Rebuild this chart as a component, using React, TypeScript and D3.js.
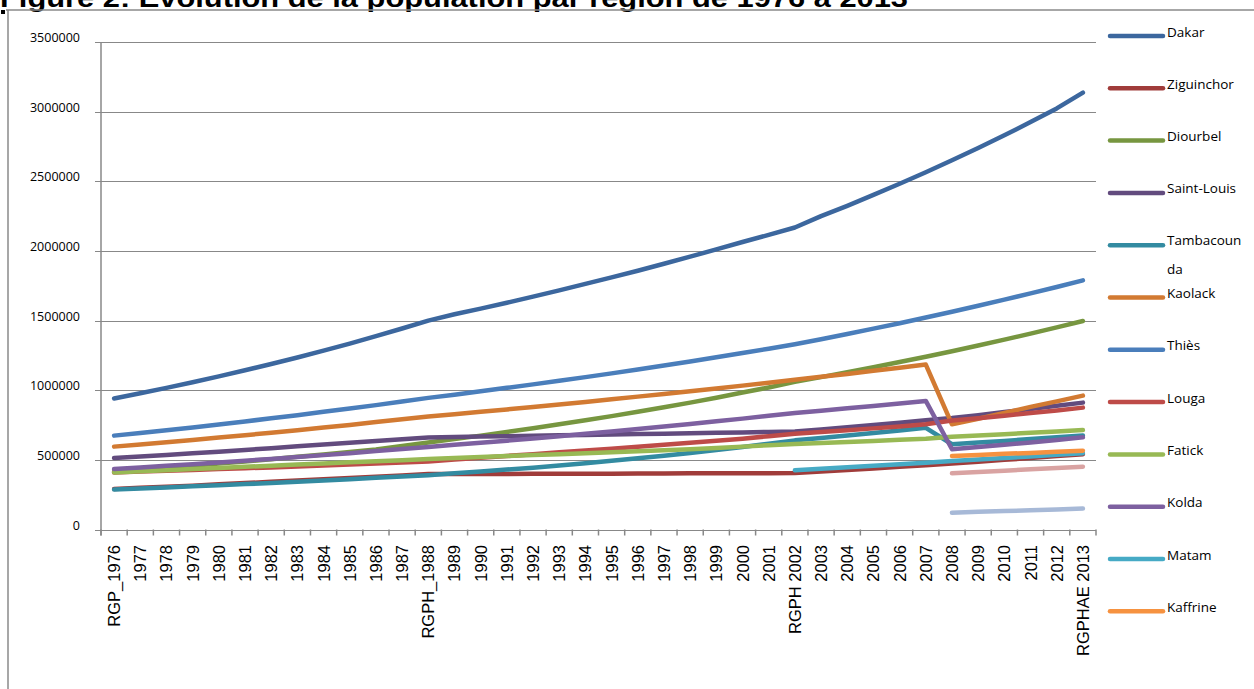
import React from "react";
import * as d3 from "d3";

const categories: string[] = [
  "RGP_1976", "1977", "1978", "1979", "1980", "1981", "1982", "1983", "1984", "1985",
  "1986", "1987", "RGPH_1988", "1989", "1990", "1991", "1992", "1993", "1994", "1995",
  "1996", "1997", "1998", "1999", "2000", "2001", "RGPH 2002", "2003", "2004", "2005",
  "2006", "2007", "2008", "2009", "2010", "2011", "2012", "RGPHAE 2013",
];

const yTicks: number[] = [0, 500000, 1000000, 1500000, 2000000, 2500000, 3000000, 3500000];

const N = null;

const dakar = [941000, 978000, 1017000, 1057000, 1099000, 1143000, 1188000, 1235000, 1284000, 1335000, 1388000, 1443000, 1500000, 1545000, 1586000, 1628000, 1672000, 1717000, 1763000, 1810000, 1858000, 1908000, 1959000, 2011000, 2064000, 2115000, 2168000, 2250000, 2324000, 2402000, 2482000, 2565000, 2651000, 2739000, 2830000, 2925000, 3023000, 3137000];
const ziguinchor = [291000, 299000, 307000, 315000, 324000, 333000, 342000, 351000, 360000, 369000, 379000, 388000, 398000, 398000, 399000, 399000, 400000, 400000, 401000, 401000, 402000, 402000, 403000, 403000, 404000, 404000, 405000, 416000, 427000, 438000, 450000, 462000, 474000, 487000, 500000, 513000, 527000, 541000];
const diourbel = [415000, 429000, 443000, 458000, 473000, 489000, 505000, 522000, 539000, 557000, 575000, 600000, 625000, 649000, 674000, 700000, 727000, 755000, 784000, 814000, 845000, 878000, 911000, 946000, 983000, 1020000, 1060000, 1094000, 1129000, 1165000, 1202000, 1240000, 1280000, 1321000, 1363000, 1406000, 1451000, 1497000];
const saintLouis = [513000, 524000, 535000, 547000, 559000, 571000, 584000, 597000, 610000, 623000, 636000, 648000, 660000, 664000, 667000, 670000, 673000, 676000, 679000, 682000, 685000, 688000, 691000, 694000, 697000, 700000, 703000, 718000, 734000, 750000, 767000, 784000, 800000, 821000, 843000, 865000, 888000, 911000];
const tambacounda = [287000, 294000, 302000, 310000, 318000, 326000, 334000, 343000, 352000, 361000, 371000, 380000, 390000, 403000, 416000, 430000, 444000, 459000, 475000, 493000, 511000, 530000, 550000, 571000, 593000, 616000, 640000, 657000, 675000, 693000, 711000, 730000, 612000, 624000, 636000, 649000, 662000, 675000];
const kaolack = [595000, 610000, 626000, 643000, 660000, 677000, 695000, 713000, 732000, 751000, 771000, 791000, 811000, 828000, 845000, 862000, 880000, 898000, 916000, 935000, 954000, 973000, 993000, 1013000, 1033000, 1054000, 1075000, 1096000, 1117000, 1139000, 1161000, 1184000, 755000, 795000, 837000, 880000, 920000, 961000];
const thies = [674000, 693000, 713000, 733000, 754000, 776000, 798000, 821000, 845000, 869000, 893000, 919000, 945000, 968000, 992000, 1017000, 1042000, 1068000, 1094000, 1121000, 1149000, 1177000, 1206000, 1236000, 1267000, 1298000, 1330000, 1366000, 1404000, 1442000, 1481000, 1522000, 1563000, 1606000, 1650000, 1695000, 1741000, 1789000];
const louga = [410000, 416000, 422000, 428000, 434000, 440000, 446000, 452000, 459000, 466000, 473000, 481000, 489000, 502000, 515000, 528000, 541000, 554000, 567000, 580000, 594000, 608000, 622000, 637000, 652000, 670000, 688000, 700000, 713000, 726000, 739000, 755000, 782000, 799000, 817000, 836000, 855000, 875000];
const fatick = [410000, 418000, 426000, 434000, 442000, 450000, 458000, 466000, 474000, 482000, 490000, 498000, 506000, 513000, 520000, 527000, 534000, 541000, 548000, 555000, 562000, 569000, 577000, 586000, 595000, 605000, 614000, 621000, 628000, 636000, 644000, 652000, 666000, 675000, 684000, 694000, 704000, 714000];
const kolda = [434000, 445000, 457000, 469000, 481000, 494000, 507000, 520000, 534000, 548000, 563000, 578000, 593000, 608000, 623000, 638000, 654000, 670000, 687000, 704000, 722000, 740000, 758000, 777000, 796000, 816000, 836000, 853000, 870000, 887000, 905000, 923000, 576000, 592000, 608000, 625000, 643000, 662000];
const matam = [N, N, N, N, N, N, N, N, N, N, N, N, N, N, N, N, N, N, N, N, N, N, N, N, N, N, 425000, 436000, 447000, 458000, 469000, 480000, 491000, 502000, 513000, 524000, 536000, 548000];
const kaffrine = [N, N, N, N, N, N, N, N, N, N, N, N, N, N, N, N, N, N, N, N, N, N, N, N, N, N, N, N, N, N, N, N, 528000, 535000, 543000, 550000, 558000, 566000];
const kedougou = [N, N, N, N, N, N, N, N, N, N, N, N, N, N, N, N, N, N, N, N, N, N, N, N, N, N, N, N, N, N, N, N, 121000, 127000, 132000, 138000, 144000, 150000];
const sedhiou = [N, N, N, N, N, N, N, N, N, N, N, N, N, N, N, N, N, N, N, N, N, N, N, N, N, N, N, N, N, N, N, N, 403000, 412000, 422000, 432000, 441000, 451000];

const seriesNames: string[] = ["Dakar", "Ziguinchor", "Diourbel", "Saint-Louis", "Tambacounda", "Kaolack", "Thiès", "Louga", "Fatick", "Kolda", "Matam", "Kaffrine", "Kédougou", "Sédhiou"];
const seriesValues: (number | null)[][] = [dakar, ziguinchor, diourbel, saintLouis, tambacounda, kaolack, thies, louga, fatick, kolda, matam, kaffrine, kedougou, sedhiou];
const seriesColors: string[] = ["#3C679E", "#A03C3A", "#779640", "#624B7E", "#338BA1", "#D27A32", "#4A7EBB", "#BE4B48", "#98B954", "#7D60A0", "#46AAC5", "#F69240", "#A7B9D7", "#D9A3A2"];
const legendCount = 12;

export default function App() {
  const left = 101;
  const right = 1096;
  const x = d3.scaleBand<string>().domain(categories).range([left, right]).paddingInner(0).paddingOuter(0);
  const y = d3.scaleLinear().domain([0, 3500000]).range([529.5, 42]);
  const bw = x.bandwidth();
  const cx = (c: string) => (x(c) as number) + bw / 2;

  const line = d3
    .line<number | null>()
    .defined((d) => d !== null)
    .x((_, i) => cx(categories[i]))
    .y((d) => y(d as number));

  const boundaries = categories.map((c) => x(c) as number).concat([right]);

  return (
    <svg
      width={1254}
      height={689}
      style={{ position: "absolute", left: 0, top: 0, background: "#fff" }}
      xmlns="http://www.w3.org/2000/svg"
    >
      <rect x={0} y={0} width={1254} height={689} fill="#fff" />
      {/* title (cut at top) */}
      <text
        x={0}
        y={7}
        fontFamily="'Liberation Sans', Arial, sans-serif"
        fontWeight="bold"
        fontSize={26}
        textLength={908}
        lengthAdjust="spacingAndGlyphs"
        fill="#000"
      >
        Figure 2: Evolution de la population par région de 1976 à 2013
      </text>
      {/* frame */}
      <line x1={6} x2={1254} y1={10} y2={10} stroke="#8a8a8a" strokeWidth={1.5} />
      <line x1={8} x2={8} y1={10} y2={689} stroke="#8a8a8a" strokeWidth={1.5} />
      <rect x={1} y={10} width={4} height={4} fill="#000" />

      {/* gridlines and y labels */}
      {yTicks.map((t) => (
        <g key={t}>
          <line x1={95} x2={right} y1={Math.round(y(t)) + 0.5} y2={Math.round(y(t)) + 0.5} stroke="#888" strokeWidth={1.2} />
          <text
            x={80}
            y={y(t)}
            textAnchor="end"
            fontFamily="'Open Sans', sans-serif"
            fontSize={12.5}
            fill="#000"
          >
            {t}
          </text>
        </g>
      ))}
      {/* y axis */}
      <line x1={left} x2={left} y1={y(3500000)} y2={y(0) + 6} stroke="#888" strokeWidth={1.5} />
      {/* x ticks */}
      {boundaries.map((b, i) => (
        <line key={i} x1={b} x2={b} y1={y(0)} y2={y(0) + 6} stroke="#888" strokeWidth={1.5} />
      ))}
      {/* x labels */}
      {categories.map((c) => (
        <text
          key={c}
          transform={`translate(${cx(c) + 6},545) rotate(-90)`}
          textAnchor="end"
          fontFamily="'Liberation Sans', Arial, sans-serif"
          fontSize={16.5}
          fill="#000"
        >
          {c}
        </text>
      ))}

      {/* series */}
      {seriesValues.map((vals, i) => (
        <path
          key={seriesNames[i]}
          d={line(vals) || ""}
          fill="none"
          stroke={seriesColors[i]}
          strokeWidth={4.5}
          strokeLinejoin="round"
          strokeLinecap="round"
        />
      ))}

      {/* legend */}
      {seriesNames.slice(0, legendCount).map((name, i) => {
        const ly = 36 + i * 52.3;
        return (
          <g key={name}>
            <line x1={1110} x2={1163} y1={ly} y2={ly} stroke={seriesColors[i]} strokeWidth={4.5} strokeLinecap="round" />
            {name === "Tambacounda" ? (
              <text x={1167} y={ly} fontFamily="'Open Sans', sans-serif" fontSize={13.5} fill="#000">
                <tspan x={1167} y={ly}>Tambacoun</tspan>
                <tspan x={1167} y={ly + 29}>da</tspan>
              </text>
            ) : (
              <text x={1167} y={ly + 0.5} fontFamily="'Open Sans', sans-serif" fontSize={13.5} fill="#000">
                {name}
              </text>
            )}
          </g>
        );
      })}
    </svg>
  );
}
